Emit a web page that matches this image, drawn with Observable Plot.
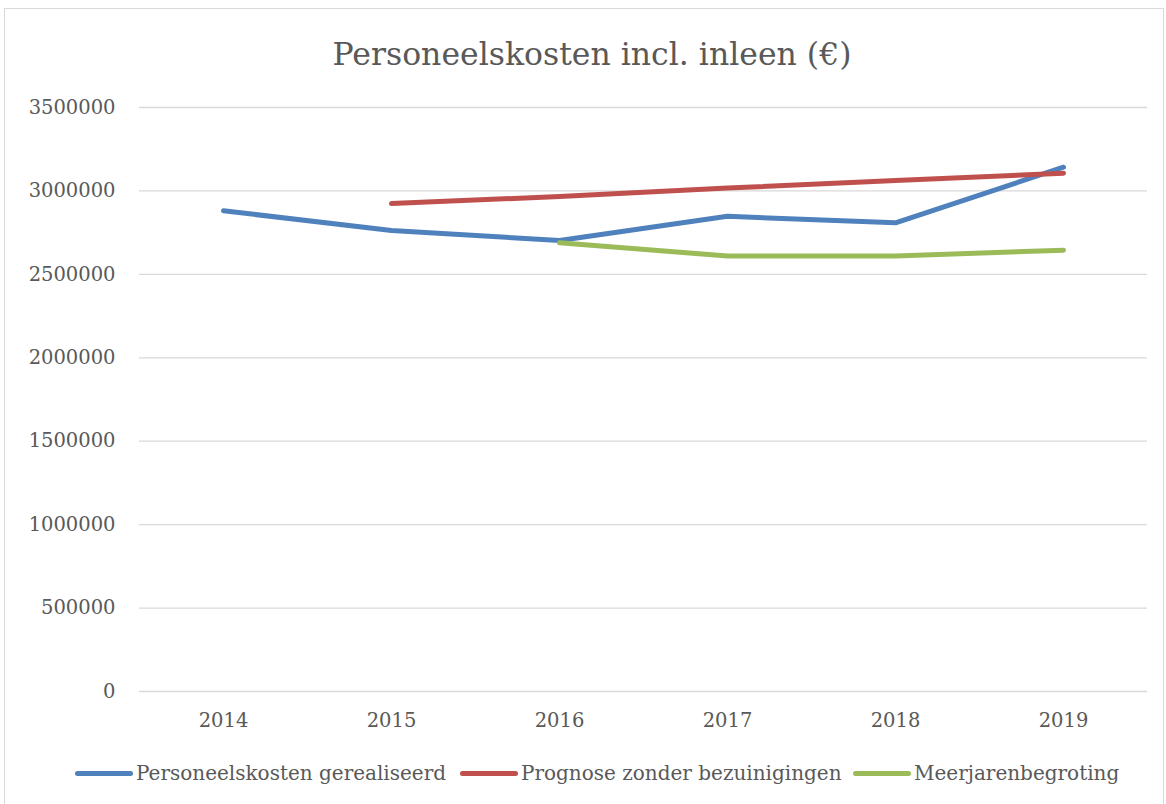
<!DOCTYPE html>
<html>
<head>
<meta charset="utf-8">
<script src="https://cdn.jsdelivr.net/npm/d3@7"></script>
<script src="https://cdn.jsdelivr.net/npm/@observablehq/plot@0.6"></script>
<style>
  html, body { margin: 0; padding: 0; background: #fff; }
  body { width: 1166px; height: 804px; position: relative; overflow: hidden; font-family: "DejaVu Serif", serif; color: #595959; }
  #frame { position: absolute; left: 4px; top: 8px; width: 1160px; height: 800px; border: 1px solid #d9d9d9; box-sizing: border-box; pointer-events: none; }
  #title { position: absolute; left: 9px; top: 0; width: 1166px; height: 90px; text-align: center; font-size: 31.5px; line-height: 36px; padding-top: 36px; box-sizing: border-box; color: #595959; }
  #chart { position: absolute; left: 0; top: 90px; }
  #legend { position: absolute; left: 0; top: 740px; width: 1166px; height: 64px; }
  .item { position: absolute; top: 21px; display: flex; align-items: center; font-size: 20px; color: #595959; white-space: nowrap; }
  .sw { width: 58px; height: 5px; border-radius: 3px; margin-right: 3px; }
</style>
</head>
<body>
<div id="frame"></div>
<div id="title">Personeelskosten incl. inleen (€)</div>
<div id="chart"></div>
<div id="legend"></div>
<script>
const years = ["2014", "2015", "2016", "2017", "2018", "2019"];
const gerealiseerd = [2881000, 2763000, 2703000, 2848000, 2809000, 3142000];
const prognose = [null, 2924000, 2967000, 3017000, 3062000, 3106000];
const meerjaren = [null, null, 2689000, 2610000, 2610000, 2645000];
const seriesNames = ["Personeelskosten gerealiseerd", "Prognose zonder bezuinigingen", "Meerjarenbegroting"];
const seriesColors = ["#4f81bd", "#c0504d", "#9bbb59"];
const yTicks = [0, 500000, 1000000, 1500000, 2000000, 2500000, 3000000, 3500000];

const seriesValues = [gerealiseerd, prognose, meerjaren];
const rows = [];
seriesValues.forEach((vals, si) => {
  vals.forEach((v, i) => { if (v != null) rows.push({ year: years[i], value: v, series: seriesNames[si] }); });
});

const plot = Plot.plot({
  width: 1166,
  height: 650,
  marginTop: 17,
  marginBottom: 49,
  marginLeft: 139,
  marginRight: 19,
  style: { fontFamily: "'DejaVu Serif', serif", fontSize: "19.5px", color: "#595959", background: "transparent" },
  x: { type: "point", domain: years, padding: 0.5, label: null, tickSize: 0, tickPadding: 22 },
  y: { domain: [0, 3500000], ticks: yTicks, tickFormat: d3.format("d"), label: null, tickSize: 0, tickPadding: 24 },
  color: { domain: seriesNames, range: seriesColors },
  marks: [
    Plot.ruleY(yTicks, { stroke: "#d9d9d9", strokeWidth: 1.3 }),
    Plot.line(rows, { x: "year", y: "value", z: "series", stroke: "series", strokeWidth: 5, strokeLinecap: "round", strokeLinejoin: "round" })
  ]
});
plot.querySelectorAll("text").forEach(t => t.setAttribute("fill", "#595959"));
document.getElementById("chart").appendChild(plot);

const legend = document.getElementById("legend");
const lefts = [75, 460, 853];
seriesNames.forEach((name, i) => {
  const it = document.createElement("div");
  it.className = "item";
  it.style.left = lefts[i] + "px";
  const sw = document.createElement("div");
  sw.className = "sw";
  sw.style.background = seriesColors[i];
  const tx = document.createElement("span");
  tx.textContent = name;
  it.appendChild(sw); it.appendChild(tx);
  legend.appendChild(it);
});
</script>
</body>
</html>
